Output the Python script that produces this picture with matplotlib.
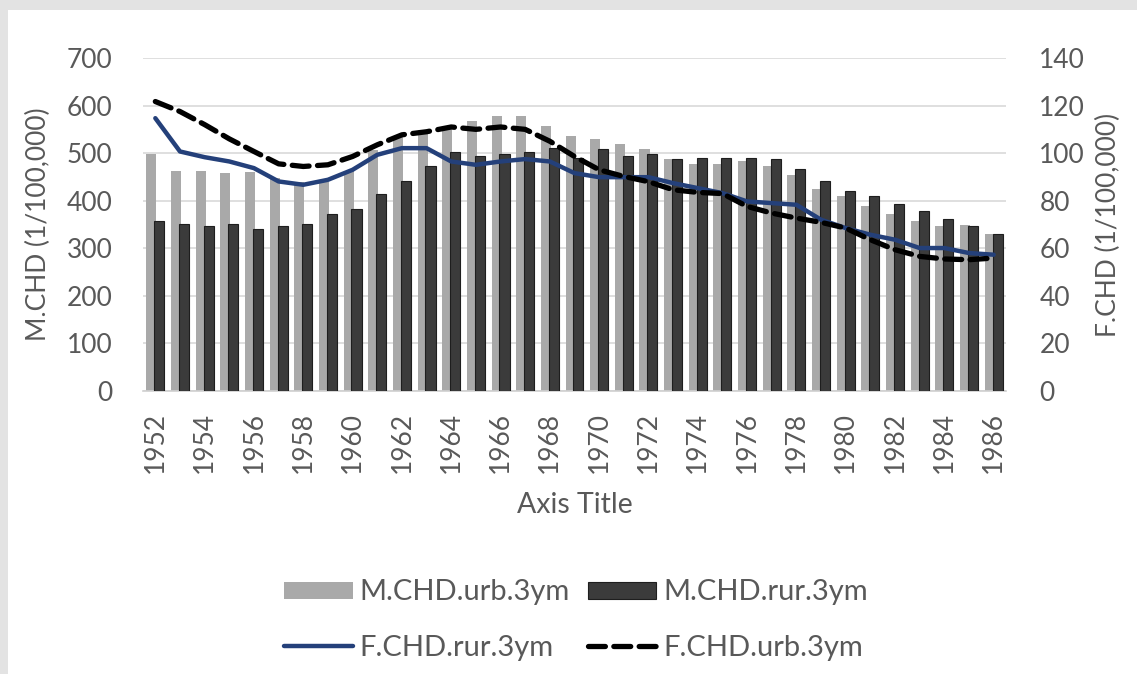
import matplotlib.pyplot as plt
import numpy as np
from matplotlib.patches import Patch, Rectangle
from matplotlib.lines import Line2D

years = list(range(1952, 1987))

# M.CHD per 100,000 (left axis)
m_chd_urb = [498, 463, 463, 458, 460, 448, 440, 440, 462, 507, 535, 548,
             555, 568, 578, 578, 557, 535, 529, 520, 508, 487, 478, 478,
             483, 472, 455, 424, 409, 388, 373, 357, 346, 350, 329]
m_chd_rur = [357, 352, 346, 352, 341, 346, 352, 373, 383, 415, 441, 472,
             503, 494, 499, 503, 510, 490, 508, 493, 498, 487, 489, 489,
             489, 487, 466, 441, 420, 409, 394, 378, 362, 346, 331]

# F.CHD per 100,000 (right axis)
f_chd_rur = [114.7, 100.7, 98.3, 96.5, 93.7, 88.1, 86.7, 88.8, 93.0, 99.3,
             102.1, 102.1, 96.5, 95.1, 96.5, 97.5, 96.5, 91.6, 89.9, 89.9,
             89.9, 87.4, 85.3, 83.2, 79.7, 79.0, 78.3, 72.0, 68.5, 65.7,
             63.6, 60.1, 60.1, 58.0, 57.3]
f_chd_urb = [121.7, 117.5, 112.0, 106.0, 100.7, 95.5, 94.4, 95.1, 98.6, 103.5,
             107.7, 109.0, 111.0, 110.0, 111.0, 110.0, 105.0, 98.6, 93.0, 90.2,
             88.0, 84.6, 83.5, 83.0, 77.6, 74.8, 72.7, 70.9, 68.5, 63.6,
             59.4, 56.6, 55.5, 55.2, 55.9]

plt.rcParams['font.family'] = ['Lato', 'DejaVu Sans']
txt = '#595959'

fig = plt.figure(figsize=(11.37, 6.74), dpi=100)
fig.patches.append(Rectangle((0, 0), 1, 1, transform=fig.transFigure,
                             facecolor='#e3e3e3', edgecolor='none', zorder=-10))
fig.patches.append(Rectangle((8 / 1137, 0), 1, 1 - 10 / 674, transform=fig.transFigure,
                             facecolor='white', edgecolor='none', zorder=-9))

ax = fig.add_axes([143 / 1137, 1 - 391 / 674, (1006 - 143) / 1137, (391 - 58) / 674])
ax.set_facecolor('none')
x = np.arange(len(years))
ax.bar(x - 0.16, m_chd_urb, width=0.41, color='#a9a9a9', zorder=2)
ax.bar(x + 0.16, m_chd_rur, width=0.41, color='#3b3b3b', edgecolor='#1e1e1e',
       linewidth=0.8, zorder=3)
ax.set_ylim(0, 700)
ax.set_yticks(range(0, 701, 100))
ax.set_xlim(-0.5, 34.5)
ax.set_xticks(x[::2])
ax.set_xticklabels([str(y) for y in years[::2]], rotation=90)
ax.grid(axis='y', color='#d9d9d9', linewidth=1.2, zorder=0)
ax.set_axisbelow(True)
for s in ['top', 'left', 'right']:
    ax.spines[s].set_visible(False)
ax.spines['bottom'].set_color('#d0d0d0')
ax.spines['bottom'].set_linewidth(1.2)
ax.tick_params(axis='y', length=0, labelsize=19, colors=txt, pad=22)
ax.tick_params(axis='x', length=0, labelsize=19, colors=txt, pad=15)
ax.set_ylabel('M.CHD (1/100,000)', fontsize=19, color=txt, labelpad=11)
ax.set_xlabel('Axis Title', fontsize=20.5, color=txt, labelpad=14)

ax2 = ax.twinx()
ax2.plot(x, f_chd_rur, color='#24407a', linewidth=3.2, solid_capstyle='round', zorder=4)
ax2.plot(x, f_chd_urb, color='black', linewidth=3.8, linestyle=(0, (3.2, 1.6)),
         dash_capstyle='round', zorder=5)
ax2.set_ylim(0, 140)
ax2.set_yticks(range(0, 141, 20))
for s in ['top', 'left', 'right', 'bottom']:
    ax2.spines[s].set_visible(False)
ax2.tick_params(axis='y', length=0, labelsize=19, colors=txt, pad=24)
ax2.set_ylabel('F.CHD (1/100,000)', fontsize=19, color=txt, labelpad=8)

handles = [Patch(facecolor='#a9a9a9', edgecolor='none'),
           Line2D([], [], color='#24407a', linewidth=3.2, solid_capstyle='round'),
           Patch(facecolor='#3b3b3b', edgecolor='#1e1e1e', linewidth=0.8),
           Line2D([], [], color='black', linewidth=3.8, linestyle=(0, (3.2, 1.6)),
                  dash_capstyle='round')]
labels = ['M.CHD.urb.3ym', 'F.CHD.rur.3ym', 'M.CHD.rur.3ym', 'F.CHD.urb.3ym']
leg = fig.legend(handles, labels, loc='center', bbox_to_anchor=(576 / 1137, 1 - 620 / 674),
                 ncol=2, frameon=False, fontsize=21, handlelength=2.35, handleheight=0.52,
                 handletextpad=0.25, columnspacing=0.6, labelspacing=1.0)
for t in leg.get_texts():
    t.set_color(txt)

fig.savefig('out.png', dpi=100)
